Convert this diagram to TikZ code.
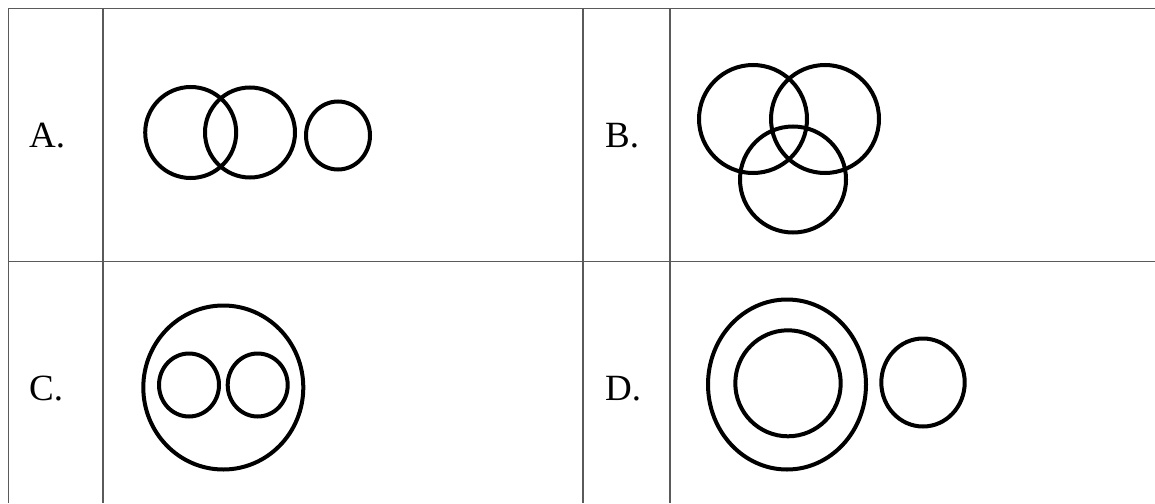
\documentclass[tikz,border=0pt]{standalone}
\usepackage{fontspec}
\setmainfont{Liberation Serif}
\usepackage{tikz}
\definecolor{gridGray}{RGB}{90, 90, 90}

\begin{document}
\begin{tikzpicture}[x=1pt, y=-1pt,
    ring/.style={line width=4pt},
    gridline/.style={gridGray, line width=1.8pt},
    choice/.style={font=\fontsize{37}{40}\selectfont, inner sep=0pt}]
      \useasboundingbox (0,0) rectangle (1155,503);

      % Table frame
      \draw[gridline] (1155,8.5) -- (8.5,8.5) -- (8.5,503);
      \draw[gridline] (8.5,261.5) -- (1155,261.5);
      \draw[gridline] (103,8.5) -- (103,503);
      \draw[gridline] (583,8.5) -- (583,503);
      \draw[gridline] (670,8.5) -- (670,503);

      % Option labels
      \node[choice, anchor=base west] (labA) at (29,147) {A.};
      \node[choice, anchor=base west] (labB) at (605,147) {B.};
      \node[choice, anchor=base west] (labC) at (29,400) {C.};
      \node[choice, anchor=base west] (labD) at (605,400) {D.};

      % A: two overlapping, one apart
      \draw[ring] (190.7,132.5) circle (45.5);
      \draw[ring] (250,132.5) circle (45);
      \draw[ring] (338,135.5) ellipse (32 and 34);

      % B: three overlapping
      \draw[ring] (753,119) circle (54);
      \draw[ring] (825,119) circle (54);
      \draw[ring] (793,179.5) circle (53);

      % C: two inside one
      \draw[ring] (223.3,387.5) ellipse (80 and 82);
      \draw[ring] (189,385) ellipse (30 and 31.5);
      \draw[ring] (257.7,385) ellipse (30 and 31.5);

      % D: one inside one, one apart
      \draw[ring] (787,384.5) ellipse (79 and 85);
      \draw[ring] (788,383.3) ellipse (52.7 and 53);
      \draw[ring] (923,382.5) ellipse (41.7 and 44);
    \end{tikzpicture}
\end{document}
